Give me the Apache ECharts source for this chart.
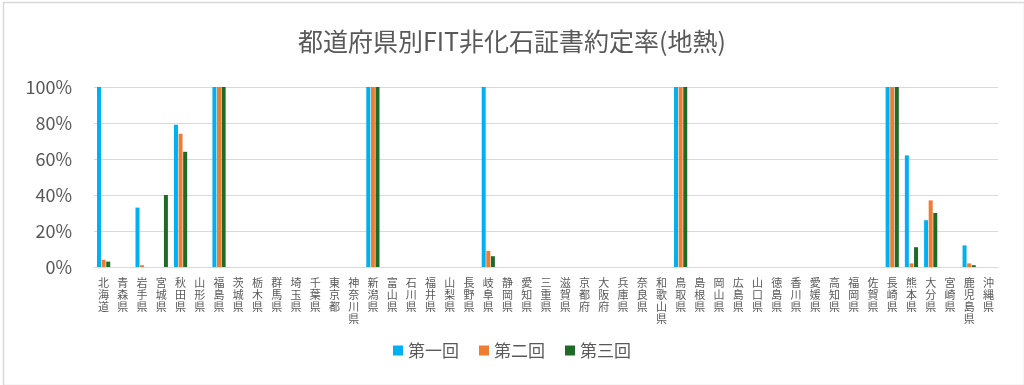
<!DOCTYPE html>
<html><head><meta charset="utf-8">
<script src="https://cdn.jsdelivr.net/npm/echarts@6/dist/echarts.min.js"></script>
<style>html,body{margin:0;padding:0;background:#fff}#c{width:1024px;height:385px}</style>
</head><body><div id="c"></div>
<script>
const categories = ["北海道","青森県","岩手県","宮城県","秋田県","山形県","福島県","茨城県","栃木県","群馬県","埼玉県","千葉県","東京都","神奈川県","新潟県","富山県","石川県","福井県","山梨県","長野県","岐阜県","静岡県","愛知県","三重県","滋賀県","京都府","大阪府","兵庫県","奈良県","和歌山県","鳥取県","島根県","岡山県","広島県","山口県","徳島県","香川県","愛媛県","高知県","福岡県","佐賀県","長崎県","熊本県","大分県","宮崎県","鹿児島県","沖縄県"];
const seriesNames = ["第一回","第二回","第三回"];
const round1 = [1.00,0,0.33,0,0.79,0,1.00,0,0,0,0,0,0,0,1.00,0,0,0,0,0,1.00,0,0,0,0,0,0,0,0,0,1.00,0,0,0,0,0,0,0,0,0,0,1.00,0.62,0.26,0,0.12,0];
const round2 = [0.04,0,0.01,0,0.74,0,1.00,0,0,0,0,0,0,0,1.00,0,0,0,0,0,0.09,0,0,0,0,0,0,0,0,0,1.00,0,0,0,0,0,0,0,0,0,0,1.00,0.02,0.37,0,0.02,0];
const round3 = [0.03,0,0,0.40,0.64,0,1.00,0,0,0,0,0,0,0,1.00,0,0,0,0,0,0.06,0,0,0,0,0,0,0,0,0,1.00,0,0,0,0,0,0,0,0,0,0,1.00,0.11,0.30,0,0.01,0];
const yTicks = [0,0.2,0.4,0.6,0.8,1.0];

const font = '"Noto Sans CJK JP", "Noto Sans", sans-serif';
const colors = ['#00B0F0','#ED7D31','#1E6B28'];
const chart = echarts.init(document.getElementById('c'));
chart.setOption({
  animation:false,
  color: colors,
  textStyle:{fontFamily:font},
  graphic:[{type:'rect',left:1,top:0,shape:{width:1021,height:383},
    style:{fill:'none',stroke:'#d9d9d9',lineWidth:1.5},silent:true,z:-1}],
  title:{text:'都道府県別FIT非化石証書約定率(地熱)',left:'center',top:24,
    textStyle:{fontFamily:font,fontSize:25,fontWeight:'normal',color:'#595959'}},
  legend:{data:seriesNames,bottom:21,left:'center',itemWidth:10,itemHeight:10,itemGap:20,icon:'rect',
    textStyle:{fontFamily:font,fontSize:17,color:'#595959'}},
  grid:{left:94,right:26,top:87,bottom:118},
  xAxis:{type:'category',data:categories,
    axisLine:{lineStyle:{color:'#d9d9d9'}},axisTick:{show:false},
    axisLabel:{interval:0,fontSize:11,lineHeight:12,color:'#595959',margin:10,verticalAlign:'top',
      formatter:v=>v.split('').join('\n')}},
  yAxis:{type:'value',min:yTicks[0],max:yTicks[yTicks.length-1],interval:0.2,
    axisLine:{show:false},axisTick:{show:false},
    splitLine:{lineStyle:{color:'#d9d9d9',width:1}},
    axisLabel:{fontSize:18,color:'#595959',margin:22,formatter:v=>Math.round(v*100)+'%'}},
  series:[round1,round2,round3].map((d,i)=>({name:seriesNames[i],type:'bar',data:d,barWidth:4,barGap:'15%'}))
});
</script></body></html>
